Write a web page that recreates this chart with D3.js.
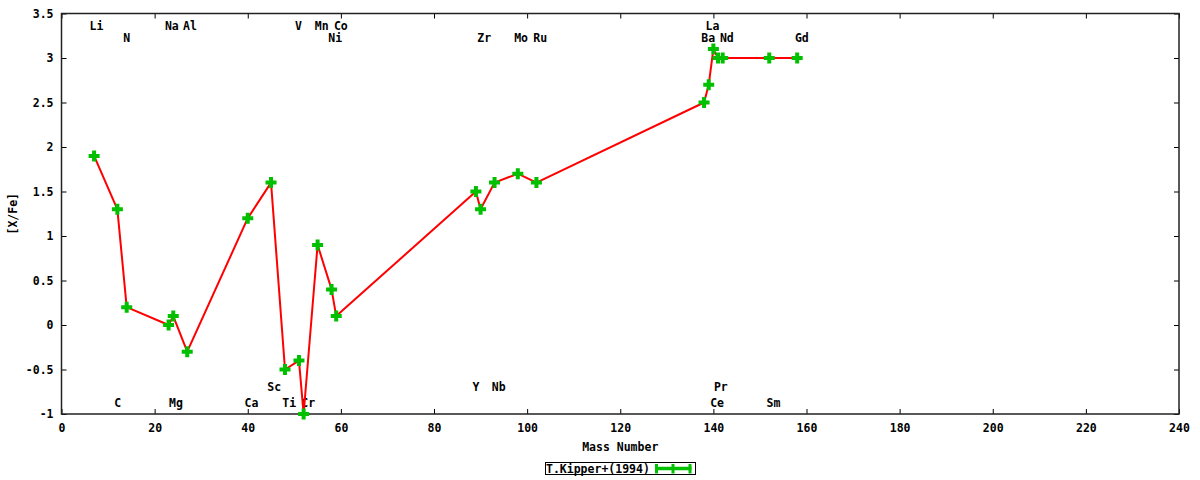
<!DOCTYPE html>
<html>
<head>
<meta charset="utf-8">
<script src="https://cdn.jsdelivr.net/npm/d3@7"></script>
<style>
  html, body { margin: 0; padding: 0; background: #fff; }
  svg text { font-family: "DejaVu Sans Mono", "Liberation Mono", monospace; font-weight: bold; font-size: 11.5px; fill: #000; }
</style>
</head>
<body>
<svg id="chart" width="1200" height="480"></svg>
<script>
// ---- data ----
const elements = ["Li","C","N","Na","Mg","Al","Ca","Sc","Ti","V","Cr","Mn","Ni","Co","Y","Zr","Nb","Mo","Ru","Ba","La","Ce","Pr","Nd","Sm","Gd"];
const massNumbers = [7,12,14,23,24,27,40,45,48,51,52,55,58,59,89,90,93,98,102,138,139,140,141,142,152,158];
const xfeValues = [1.9,1.3,0.2,0.0,0.1,-0.3,1.2,1.6,-0.5,-0.4,-1.0,0.9,0.4,0.1,1.5,1.3,1.6,1.7,1.6,2.5,2.7,3.1,3.0,3.0,3.0,3.0];

// element labels placed in data coordinates
const labelNames = ["Li","Na","Al","V","Mn","Co","La",
                    "N","Ni","Zr","Mo","Ru","Ba","Nd","Gd",
                    "Sc","Y","Nb","Pr",
                    "C","Mg","Ca","Ti","Cr","Ce","Sm"];
const labelMass = [7.5,23.7,27.6,50.9,55.9,60.0,139.8,
                   14.0,58.8,90.8,98.7,102.8,138.9,142.9,159.0,
                   45.7,89.0,93.9,141.6,
                   12.1,24.6,40.8,48.9,53.0,140.8,152.9];
const labelXFe = [3.36,3.36,3.36,3.36,3.36,3.36,3.36,
                  3.225,3.225,3.225,3.225,3.225,3.225,3.225,3.225,
                  -0.697,-0.697,-0.697,-0.697,
                  -0.876,-0.876,-0.876,-0.876,-0.876,-0.876,-0.876];

const xTicks = [0,20,40,60,80,100,120,140,160,180,200,220,240];
const yTicks = [-1,-0.5,0,0.5,1,1.5,2,2.5,3,3.5];
const xTitle = "Mass Number";
const yTitle = "[X/Fe]";
const seriesName = "T.Kipper+(1994)";

// ---- layout ----
const L = 61.5, R = 1179, T = 13.5, B = 414;
const svg = d3.select("#chart");
const x = d3.scaleLinear().domain([0, 240]).range([L, R]);
const y = d3.scaleLinear().domain([-1, 3.5]).range([B, T]);
const fmt = d => String(d);

// axes (inward ticks, mirrored)
const gx = svg.append("g").attr("transform", `translate(0,${B})`)
  .call(d3.axisBottom(x).tickValues(xTicks).tickFormat(fmt).tickSizeInner(-5).tickSizeOuter(0).tickPadding(10));
const gy = svg.append("g").attr("transform", `translate(${L},0)`)
  .call(d3.axisLeft(y).tickValues(yTicks).tickFormat(fmt).tickSizeInner(-5).tickSizeOuter(0).tickPadding(8));
const gt = svg.append("g").attr("transform", `translate(0,${T})`)
  .call(d3.axisTop(x).tickValues(xTicks).tickFormat("").tickSizeInner(-5).tickSizeOuter(0));
const gr = svg.append("g").attr("transform", `translate(${R},0)`)
  .call(d3.axisRight(y).tickValues(yTicks).tickFormat("").tickSizeInner(-5).tickSizeOuter(0));
[gx, gy, gt, gr].forEach(g => {
  g.select(".domain").remove();
  g.selectAll(".tick line").attr("stroke", "#000").attr("stroke-width", 1);
  g.selectAll(".tick text").attr("font-family", null).attr("font-size", null);
});
gx.selectAll("text").attr("fill", "#000");
gy.selectAll("text").attr("fill", "#000");

// border
svg.append("rect").attr("x", L).attr("y", T).attr("width", R - L).attr("height", B - T)
  .attr("fill", "none").attr("stroke", "#222").attr("stroke-width", 1.5);

// axis titles
svg.append("text").attr("x", (L + R) / 2).attr("y", 447).attr("text-anchor", "middle")
  .attr("dominant-baseline", "central").text(xTitle);
svg.append("text").attr("transform", `translate(13,${(T + B) / 2}) rotate(-90)`)
  .attr("text-anchor", "middle").attr("dominant-baseline", "central").text(yTitle);

// element labels
svg.append("g").selectAll("text").data(labelNames).join("text")
  .attr("x", (d, i) => x(labelMass[i]))
  .attr("y", (d, i) => y(labelXFe[i]))
  .attr("text-anchor", "middle").attr("dominant-baseline", "central")
  .text(d => d);

// data
const pts = massNumbers.map((m, i) => ({ m, v: xfeValues[i], el: elements[i] }));
svg.append("path").datum(pts)
  .attr("d", d3.line().x(d => x(d.m)).y(d => y(d.v)))
  .attr("fill", "none").attr("stroke", "#ff0000").attr("stroke-width", 2).attr("stroke-linejoin", "round");

const plus = "M-5.5,-2 H-2 V-5.5 H2 V-2 H5.5 V2 H2 V5.5 H-2 V2 H-5.5 Z";
svg.append("g").selectAll("path").data(pts).join("path")
  .attr("transform", d => `translate(${x(d.m)},${y(d.v)})`)
  .attr("d", plus).attr("fill", "#00c000");

// legend
const lg = svg.append("g");
lg.append("rect").attr("x", 545.5).attr("y", 462.5).attr("width", 150).attr("height", 12)
  .attr("fill", "none").attr("stroke", "#000").attr("stroke-width", 1);
lg.append("text").attr("x", 546).attr("y", 468.5).attr("dominant-baseline", "central").text(seriesName);
lg.append("line").attr("x1", 655).attr("x2", 691.5).attr("y1", 468.5).attr("y2", 468.5)
  .attr("stroke", "#00c000").attr("stroke-width", 3.5);
[656.5, 673, 690].forEach(cx => {
  lg.append("line").attr("x1", cx).attr("x2", cx).attr("y1", 464).attr("y2", 473.5)
    .attr("stroke", "#00c000").attr("stroke-width", 3);
});
</script>
</body>
</html>
